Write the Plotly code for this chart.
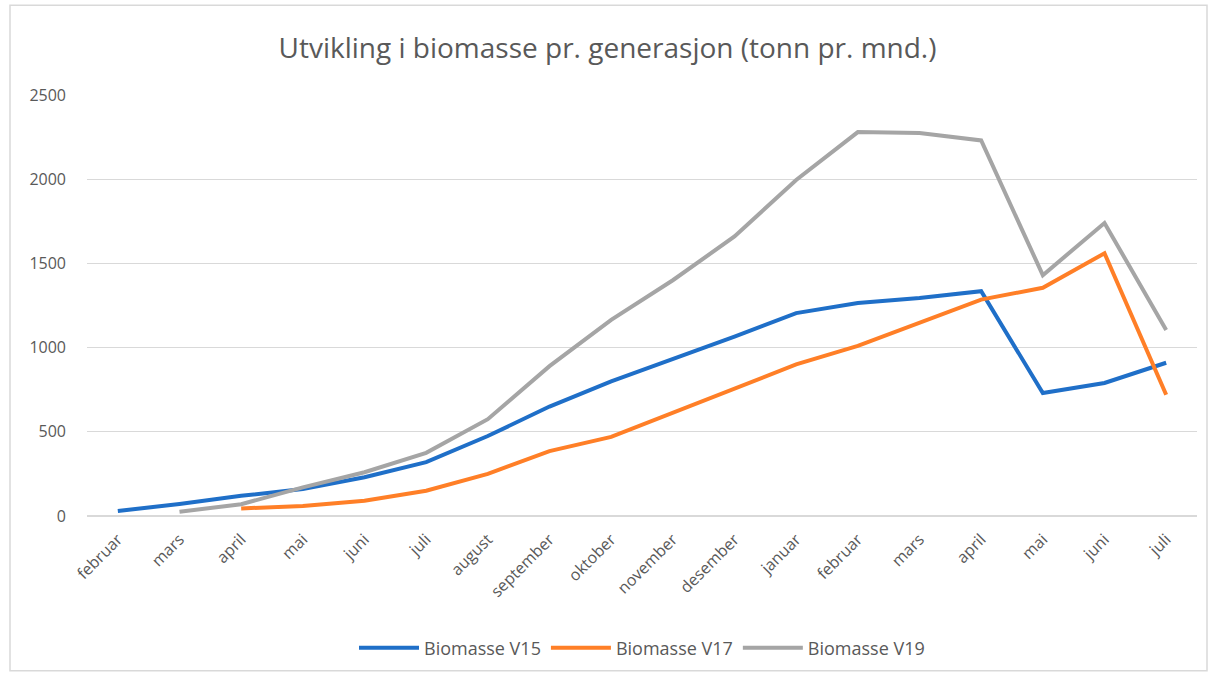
import plotly.graph_objects as go

months = ["februar", "mars", "april", "mai", "juni", "juli", "august", "september",
          "oktober", "november", "desember", "januar", "februar", "mars", "april",
          "mai", "juni", "juli"]

v15 = [30, 71, 120, 160, 230, 320, 475, 650, 800, 930, 1065, 1205, 1265, 1295, 1335, 730, 790, 910]
v17 = [None, None, 45, 60, 90, 150, 250, 385, 470, 615, 755, 900, 1010, 1150, 1285, 1355, 1560, 720]
v19 = [None, 25, 70, 170, 260, 375, 575, 890, 1165, 1400, 1660, 1995, 2280, 2275, 2230, 1430, 1740, 1105]

x = list(range(len(months)))

fig = go.Figure()
for name, vals, color in [("Biomasse V15", v15, "#1F6FC8"),
                          ("Biomasse V17", v17, "#FF7F27"),
                          ("Biomasse V19", v19, "#A5A5A5")]:
    fig.add_trace(go.Scatter(x=x, y=vals, mode="lines", name=name,
                             line=dict(color=color, width=4), connectgaps=False))

L, R, T, B = 87, 18, 95, 160
W, H = 1215, 677
pw, ph = W - L - R, H - T - B

def px_x(p):
    return (p - L) / pw

def px_y(p):
    return (H - B - p) / ph

fig.update_layout(
    width=W, height=H,
    margin=dict(l=L, r=R, t=T, b=B),
    paper_bgcolor="white", plot_bgcolor="white",
    font=dict(family="Open Sans, Liberation Sans, sans-serif", color="#595959", size=16),
    title=dict(text="Utvikling i biomasse pr. generasjon (tonn pr. mnd.)",
               x=0.5, xanchor="center", y=1 - 48 / H, yanchor="middle",
               font=dict(size=28, color="#595959")),
    xaxis=dict(tickmode="array", tickvals=x, ticktext=months, tickangle=-45,
               range=[-0.5, len(months) - 0.5], showgrid=False, zeroline=False,
               showline=False, ticks="", ticklabelstandoff=10,
               tickfont=dict(size=16, color="#595959")),
    yaxis=dict(range=[0, 2500], tickvals=[0, 500, 1000, 1500, 2000, 2500],
               showgrid=True, gridcolor="#D9D9D9", gridwidth=1,
               zeroline=True, zerolinecolor="#D9D9D9", zerolinewidth=1.5,
               showline=False, ticks="", ticklen=0, ticklabelstandoff=20,
               tickfont=dict(size=16, color="#595959")),
    legend=dict(orientation="h", x=0.5, xanchor="center", y=px_y(648), yanchor="middle",
                font=dict(size=18, color="#595959"), tracegroupgap=0, itemwidth=60),
    shapes=[dict(type="rect", xref="paper", yref="paper",
                 x0=px_x(10), x1=px_x(1207), y0=px_y(672), y1=px_y(5),
                 line=dict(color="#D9D9D9", width=1.5), fillcolor="rgba(0,0,0,0)",
                 layer="below")],
)

fig.write_html("out.html", config={"displayModeBar": False},
               post_script="document.body.style.margin='0';document.body.style.overflow='hidden';")
